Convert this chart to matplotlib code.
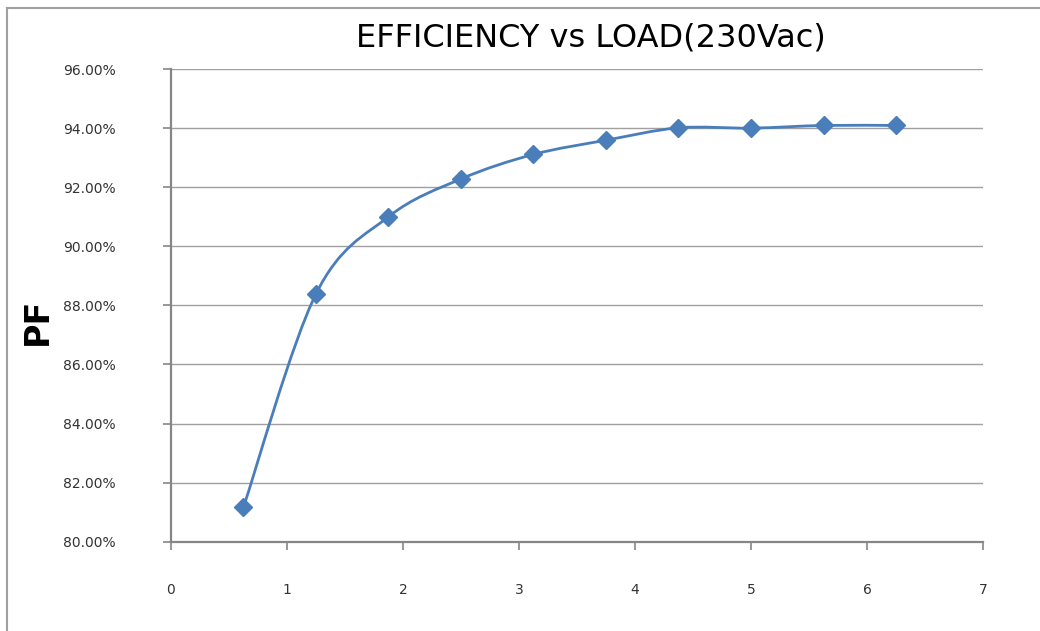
"""
Efficiency vs load curve at 230Vac, Excel-style smoothed line with diamond markers.
"""
import matplotlib
matplotlib.use('Agg')
import matplotlib.pyplot as plt
from matplotlib.path import Path
from matplotlib.patches import PathPatch
from matplotlib.ticker import FuncFormatter
from matplotlib.lines import Line2D


# data
LOAD = [0.625, 1.25, 1.875, 2.5, 3.125, 3.75, 4.375, 5.0, 5.625, 6.25]
EFFICIENCY = [81.17, 88.39, 91.00, 92.28, 93.11, 93.59, 94.01, 94.00, 94.09, 94.09]
X_TICKS = [0, 1, 2, 3, 4, 5, 6, 7]
Y_TICKS = [80, 82, 84, 86, 88, 90, 92, 94, 96]

LINE_COLOR = '#4a7ebb'
AXIS_COLOR = '#868686'
GRID_COLOR = '#a0a0a0'


def smooth_path(xs, ys):
    """Catmull-Rom style cubic bezier through the points (like Excel smoothing)."""
    n = len(xs)
    verts = [(xs[0], ys[0])]
    codes = [Path.MOVETO]
    for i in range(n - 1):
        x0, y0 = (xs[i - 1], ys[i - 1]) if i > 0 else (xs[i], ys[i])
        x1, y1 = xs[i], ys[i]
        x2, y2 = xs[i + 1], ys[i + 1]
        x3, y3 = (xs[i + 2], ys[i + 2]) if i + 2 < n else (x2, y2)
        c1 = (x1 + (x2 - x0) / 6, y1 + (y2 - y0) / 6)
        c2 = (x2 - (x3 - x1) / 6, y2 - (y3 - y1) / 6)
        verts += [c1, c2, (x2, y2)]
        codes += [Path.CURVE4] * 3
    return Path(verts, codes)


fig = plt.figure(figsize=(10.4, 6.31), dpi=100)
ax = fig.add_axes([0.1644, 0.1415, 0.7808, 0.7491])

# curve + markers
ax.add_patch(PathPatch(smooth_path(LOAD, EFFICIENCY), facecolor='none',
                       edgecolor=LINE_COLOR, linewidth=2.0, zorder=3))
ax.plot(LOAD, EFFICIENCY, linestyle='none', marker='D', markersize=9.5,
        color=LINE_COLOR, zorder=4)

# axes
ax.set_xlim(0, 7)
ax.set_ylim(80, 96)
ax.set_xticks(X_TICKS)
ax.set_yticks(Y_TICKS)
ax.yaxis.set_major_formatter(FuncFormatter(lambda v, p: f'{v:.2f}%'))
ax.grid(True, axis='y', color=GRID_COLOR, linewidth=1.0)
ax.set_axisbelow(True)
ax.spines['top'].set_visible(False)
ax.spines['right'].set_visible(False)
for side in ['left', 'bottom']:
    ax.spines[side].set_color(AXIS_COLOR)
    ax.spines[side].set_linewidth(1.6)
ax.tick_params(axis='both', direction='out', length=6, width=1.2,
               color=AXIS_COLOR, labelsize=10, labelcolor='#333333')
ax.tick_params(axis='y', pad=34)
ax.tick_params(axis='x', pad=24)

# title / y label
fig.text(0.568, 0.94, 'EFFICIENCY vs LOAD(230Vac)', ha='center', va='center',
         fontsize=23, color='black')
fig.text(0.036, 0.49, 'PF', ha='center', va='center', rotation=90,
         fontsize=24, fontweight='bold', color='black')

# outer chart frame (top and left edges)
fig.add_artist(Line2D([0.0067, 1.0], [0.987, 0.987], transform=fig.transFigure,
                      color='#a0a0a0', linewidth=1.5))
fig.add_artist(Line2D([0.0067, 0.0067], [0.0, 0.987], transform=fig.transFigure,
                      color='#a0a0a0', linewidth=1.5))

fig.savefig('out.png', dpi=100)
plt.close(fig)
